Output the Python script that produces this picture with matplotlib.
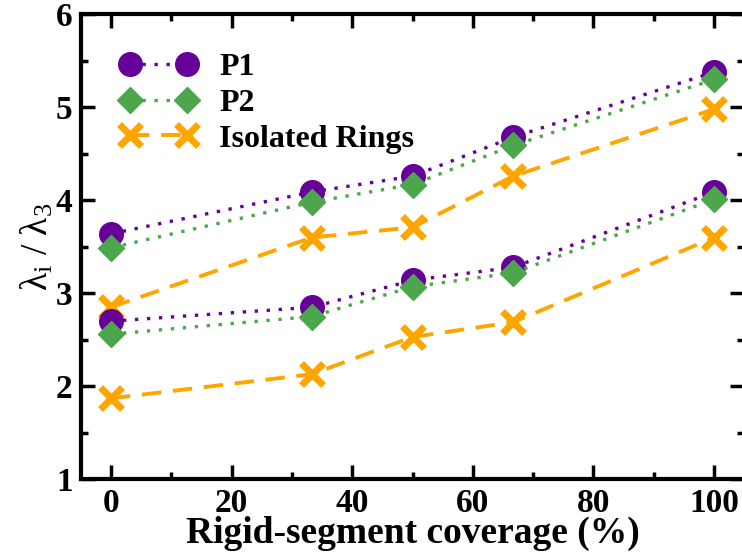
import matplotlib
matplotlib.use("Agg")
from matplotlib import pyplot as plt
from matplotlib.ticker import MultipleLocator

plt.rcParams["font.family"] = ["Liberation Serif", "DejaVu Serif"]
plt.rcParams["mathtext.fontset"] = "custom"
plt.rcParams["mathtext.rm"] = "Liberation Serif"
plt.rcParams["mathtext.it"] = "Liberation Serif:italic"

coverage = [0, 33.3, 50, 66.7, 100]

# upper branch
p1_hi = [3.64, 4.09, 4.26, 4.68, 5.38]
p2_hi = [3.49, 3.98, 4.17, 4.59, 5.30]
iso_hi = [2.85, 3.60, 3.71, 4.26, 4.98]

# lower branch
p1_lo = [2.70, 2.85, 3.14, 3.28, 4.09]
p2_lo = [2.56, 2.75, 3.07, 3.22, 4.01]
iso_lo = [1.87, 2.13, 2.53, 2.69, 3.60]

purple = "#660099"
green = "#4ca64c"
orange = "#ffa500"

fig = plt.figure(figsize=(7.42, 5.54), dpi=100)
ax = fig.add_axes([0.109, 0.135, 0.894, 0.839])

p1_style = dict(color=purple, ls=(0, (1, 2.6)), lw=2.4, marker="o", ms=17)
p2_style = dict(color=green, ls=(0, (1, 2.6)), lw=2.4, marker="D", ms=13)
iso_style = dict(color=orange, ls=(0, (5, 3)), lw=2.8, marker="x", ms=16, mew=5)

ax.plot(coverage, p1_hi, label="P1", **p1_style)
ax.plot(coverage, p2_hi, label="P2", **p2_style)
ax.plot(coverage, iso_hi, label="Isolated Rings", **iso_style)
ax.plot(coverage, p1_lo, **p1_style)
ax.plot(coverage, p2_lo, **p2_style)
ax.plot(coverage, iso_lo, **iso_style)

ax.set_xlim(-5, 105)
ax.set_ylim(1, 6)
ax.xaxis.set_major_locator(MultipleLocator(20))
ax.xaxis.set_minor_locator(MultipleLocator(10))
ax.yaxis.set_major_locator(MultipleLocator(1))
ax.yaxis.set_minor_locator(MultipleLocator(0.5))
ax.tick_params(which="both", direction="in", top=True, right=True, width=2.5)
ax.tick_params(which="major", length=10, labelsize=24, pad=6)
ax.tick_params(which="minor", length=5)
for lab in ax.get_xticklabels() + ax.get_yticklabels():
    lab.set_fontweight("bold")
for s in ax.spines.values():
    s.set_linewidth(3)

ax.set_xlabel("Rigid-segment coverage (%)", fontsize=27, fontweight="bold", labelpad=-2)
ax.set_ylabel(r"λ$_{\rm i}$ / λ$_{\rm 3}$", fontsize=27, labelpad=0)

ax.legend(loc="upper left", bbox_to_anchor=(0.04, 0.945), frameon=False,
          numpoints=2, handlelength=2.4,
          prop={"size": 23, "weight": "bold"}, borderaxespad=0.0,
          labelspacing=0.2, handletextpad=0.7)

fig.savefig("out.png", dpi=100)
